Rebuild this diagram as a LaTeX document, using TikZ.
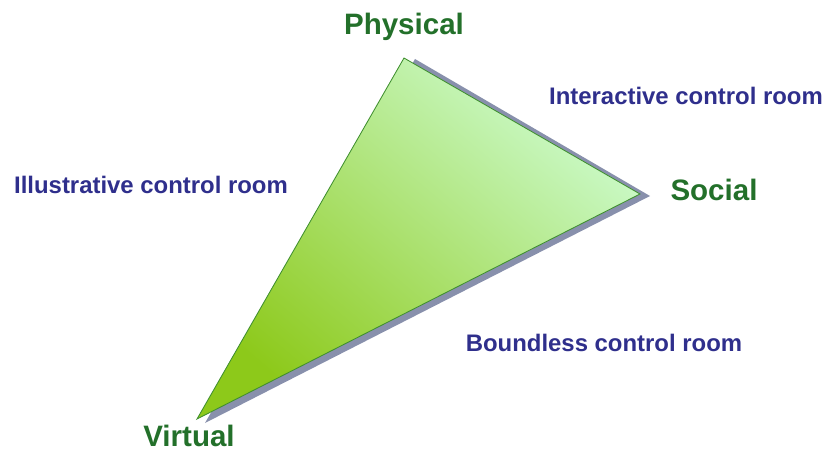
\documentclass[tikz,border=0pt]{standalone}
\usepackage{fontspec}
\setmainfont{Liberation Sans}
\usepackage[dvipsnames,svgnames,x11names]{xcolor}
\definecolor{cornergreen}{HTML}{23702A}
\definecolor{roomblue}{HTML}{2F2F8C}
\definecolor{edgegreen}{HTML}{3F8F2F}
\definecolor{lightfill}{HTML}{CCFBCC}
\definecolor{darkfill}{HTML}{8DC91A}
\definecolor{shadowgrey}{HTML}{8890AC}
\usepackage{tikz}
\usetikzlibrary{positioning,calc}

\begin{document}
\begin{tikzpicture}[
  x=0.025cm, y=-0.025cm,
  corner/.style={text=cornergreen, font=\fontsize{21}{24}\selectfont\bfseries, inner sep=0pt},
  room/.style={text=roomblue, font=\fontsize{17}{20}\selectfont\bfseries, inner sep=0pt},
  edge/.style={draw=edgegreen, line width=0.6pt, line join=miter}
]
  \useasboundingbox (0,0) rectangle (824,453);

  % triangle corners
  \coordinate (top) at (404,58);
  \coordinate (right) at (640,194);
  \coordinate (bottom) at (197,419);

  % shadow
  \fill[shadowgrey] ($(top)+(11,1)$) -- ($(right)+(10,2)$) -- ($(bottom)+(8,4)$) -- cycle;
  % triangle
  \shade[left color=darkfill, right color=lightfill, shading angle=140]
    (top) -- (right) -- (bottom) -- cycle;
  \draw[edge] (top) -- (right) -- (bottom) -- cycle;

  % corner labels
  \node[corner] (physical) at (404,27) {Physical};
  \node[corner] (social) at (714,190) {Social};
  \node[corner] (virtual) at (189,436) {Virtual};

  % room labels
  \node[room] (illustrative) at (151,185) {Illustrative control room};
  \node[room] (interactive) at (686,96) {Interactive control room};
  \node[room] (boundless) at (604,343) {Boundless control room};
\end{tikzpicture}
\end{document}
